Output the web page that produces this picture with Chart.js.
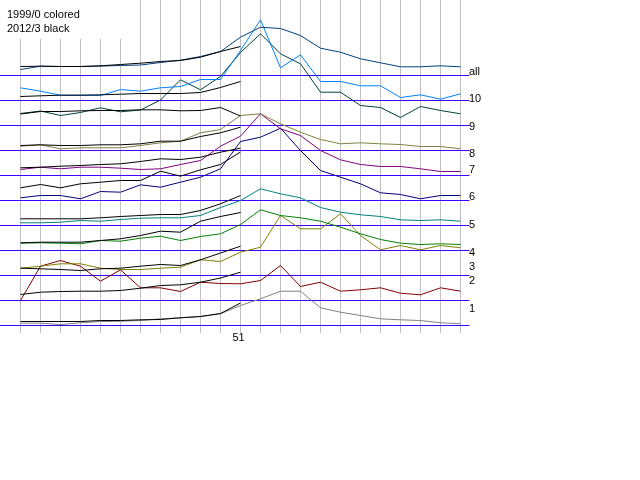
<!DOCTYPE html>
<html>
<head>
<meta charset="utf-8">
<script src="https://cdn.jsdelivr.net/npm/chart.js@4.4.0/dist/chart.umd.min.js"></script>
<style>
html, body { margin: 0; padding: 0; background: #fff; }
#wrap { width: 640px; height: 480px; }
</style>
</head>
<body>
<div id="wrap"><canvas id="chart" width="640" height="480"></canvas></div>
<script>
// series names, top to bottom
let names = ['all', '10', '9', '8', '7', '6', '5', '4', '3', '2', '1']

// 1999/0 season (23 weeks) and 2012/3 season (12 weeks so far), height above each row's baseline
let c_all = [6, 9.3, 9, 9, 9.4, 10, 10.5, 13, 15.3, 19, 24, 38.3, 48.3, 47, 40, 27.3, 23.3, 16.7, 12.7, 8.7, 8.7, 9.7, 8.7]
let b_all = [9, 9.3, 9, 9, 9.7, 11, 12.3, 14, 15, 18.3, 24, 29]
let c_10 = [12.7, 9.3, 5.3, 5.3, 5, 11, 9.3, 12.7, 14, 21, 21, 50, 80.7, 32.7, 45.7, 19, 19, 14.7, 14.7, 3, 5.7, 1.3, 6.7]
let b_10 = [4, 4.7, 5.3, 5.3, 5.7, 6.3, 7, 7, 7, 8, 13, 19]
let c_9 = [12, 14.5, 10, 13, 17.7, 13.7, 15.5, 25.5, 45.7, 35.7, 49, 73, 91.7, 71.7, 61.7, 33.3, 33.3, 20, 18, 8, 19, 15, 11.7]
let b_9 = [11.5, 14, 14, 14.7, 15, 15, 15.7, 15.7, 14.7, 15, 18, 9.5]
let c_8 = [4.3, 5.7, 1.7, 2.7, 2.7, 2.7, 5, 7.7, 9.3, 17.7, 21, 35, 36.7, 26.7, 18.3, 11, 6.7, 7.7, 6.7, 6, 4, 4, 1.7]
let b_8 = [5, 5.7, 5, 5, 5.7, 5.7, 6.7, 9.3, 9.3, 14, 17.7, 23.3]
let c_7 = [6, 8.3, 6.7, 8.3, 8.3, 7.3, 6, 6.7, 11, 15, 29.3, 39.3, 61.7, 46.7, 40, 25, 15.7, 11, 9, 9, 6.7, 4, 4]
let b_7 = [7.7, 8.3, 9.3, 10, 11, 11.7, 14, 16.7, 16, 18.3, 23.3, 27.3]
let c_6 = [2.7, 5, 5, 1.7, 9, 8.3, 15.7, 13.3, 18.3, 23.3, 31.7, 59, 63.3, 72.3, 50, 30, 23.3, 16.7, 7.7, 6, 1.7, 5, 5]
let b_6 = [12.7, 16, 12.7, 16.7, 18.3, 20, 20, 29.3, 24.3, 30.7, 36, 48.5]
let c_5 = [2.7, 2.7, 3.3, 5, 4.3, 6, 7.3, 7.7, 7.7, 10, 18, 25, 36.7, 31.7, 27.7, 18, 13.3, 10.7, 9, 5.7, 5, 5.7, 4.3]
let b_5 = [6.7, 6.7, 6.7, 6.7, 7.7, 9, 10, 11, 11, 15, 21.7, 30]
let c_4 = [7.3, 7.7, 7.3, 6.7, 10, 9.3, 12.3, 14.3, 10, 14, 16.7, 26, 40.7, 35, 32.7, 29.3, 23.3, 16.7, 11, 7.3, 6, 6.7, 6]
let b_4 = [7.7, 8.3, 8.3, 8.3, 10, 11.7, 15, 19.3, 18.3, 29.3, 34, 38]
let c_3 = [7.3, 9.3, 11.7, 11.7, 7.3, 6, 6, 7.3, 8.3, 15.7, 14, 23.3, 28.3, 60, 46.7, 46.7, 61.7, 40, 25.7, 30, 25.7, 30, 27.7]
let b_3 = [7.3, 6.7, 6, 5, 6.7, 7.3, 9.3, 11, 10, 15.7, 22.5, 29.3]
let c_2 = [0, 34.3, 40, 34.3, 19.3, 30.7, 12.7, 12.7, 9, 18.3, 17, 16.7, 20, 35, 14, 18.3, 9.3, 10.7, 12.7, 7.3, 5.7, 12.7, 9.3]
let b_2 = [6, 8.3, 9, 9.3, 9.3, 10, 12.3, 15, 15.7, 18.3, 22.5, 28.3]
let c_1 = [2.3, 2.3, 1, 2.7, 4, 4.3, 5, 6.7, 7.7, 9, 11.7, 20, 26.7, 34.3, 34.3, 17.7, 13.3, 10, 6.7, 5.7, 5, 2.7, 1.7]
let b_1 = [4, 4, 4, 4, 5, 5, 5.7, 6, 7.7, 9, 12, 22.5]

let colored = [c_all, c_10, c_9, c_8, c_7, c_6, c_5, c_4, c_3, c_2, c_1]
let black = [b_all, b_10, b_9, b_8, b_7, b_6, b_5, b_4, b_3, b_2, b_1]
let tickLabels = ['51']
let tickAt = [10.9]

let colors = ['#004080', '#0080ff', '#004040', '#808040', '#800080', '#000080', '#008080', '#008000', '#808000', '#800000', '#808080']
let nameY = [75, 102, 130, 157, 173, 200, 228, 256, 270, 284, 312]
let rowGap = 25

let datasets = []
names.forEach((n, i) => {
    let base = (names.length - 1 - i) * rowGap
    datasets.push({
        label: n + ' base',
        data: [{ x: -1.1, y: base }, { x: 22.45, y: base }],
        borderColor: '#4000ff',
        order: 2
    })
    datasets.push({
        label: n + ' 1999/0',
        data: colored[i].map((v, k) => ({ x: k, y: base + v })),
        borderColor: colors[i],
        order: 1
    })
    datasets.push({
        label: n + ' 2012/3',
        data: black[i].map((v, k) => ({ x: k, y: base + v })),
        borderColor: '#000000',
        order: 0
    })
})

let decor = {
    id: 'decor',
    beforeDatasetsDraw(chart) {
        let ctx = chart.ctx
        let xs = chart.scales.x
        ctx.save()
        ctx.strokeStyle = '#c0c0c0'
        ctx.lineWidth = 1
        for (let k = 0; k < c_all.length; k++) {
            let px = xs.getPixelForValue(k)
            ctx.beginPath()
            ctx.moveTo(px, px < 130 ? 39 : 0)
            ctx.lineTo(px, 333)
            ctx.stroke()
        }
        ctx.restore()
    },
    afterDraw(chart) {
        let ctx = chart.ctx
        let xs = chart.scales.x
        ctx.save()
        ctx.fillStyle = '#000'
        ctx.font = '11px "Liberation Sans", Arial, sans-serif'
        ctx.textBaseline = 'alphabetic'
        ctx.textAlign = 'left'
        ctx.fillText('1999/0 colored', 7, 18)
        ctx.fillText('2012/3 black', 7, 32)
        names.forEach((n, i) => ctx.fillText(n, 469, nameY[i]))
        ctx.textAlign = 'center'
        tickLabels.forEach((t, i) => ctx.fillText(t, xs.getPixelForValue(tickAt[i]), 341))
        ctx.restore()
    }
}

let ctx = document.getElementById('chart').getContext('2d')
let chart = new Chart(ctx, {
    type: 'line',
    data: { datasets: datasets },
    options: {
        responsive: false,
        animation: false,
        devicePixelRatio: 1,
        events: [],
        layout: { padding: 0 },
        elements: {
            line: { borderWidth: 1, tension: 0, fill: false },
            point: { radius: 0 }
        },
        scales: {
            x: { type: 'linear', min: -1.025, max: 30.975, display: false },
            y: { type: 'linear', min: -154.5, max: 325.5, display: false }
        },
        plugins: {
            legend: { display: false },
            tooltip: { enabled: false }
        }
    },
    plugins: [decor]
})
</script>
</body>
</html>
